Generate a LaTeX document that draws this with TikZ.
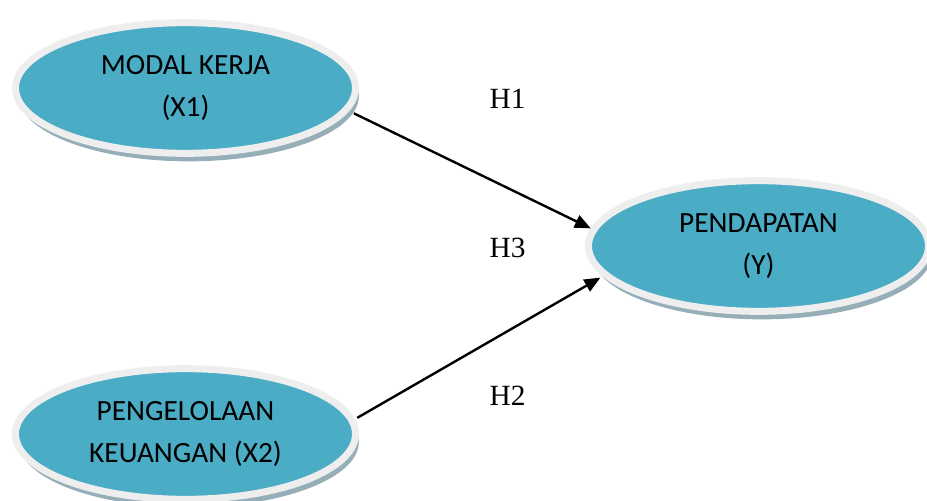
\documentclass[tikz,border=0pt]{standalone}
\usepackage{fontspec}
\setmainfont{Liberation Serif}
\newfontfamily\bodyfont{Carlito}
\usetikzlibrary{arrows.meta,shapes.geometric,shadows}
\definecolor{varAqua}{RGB}{75,172,198}
\definecolor{ringGray}{RGB}{238,238,238}
\definecolor{shadeBlue}{RGB}{150,174,184}
\tikzset{
  latentvar/.style={ellipse, draw=ringGray, line width=5.25pt, fill=varAqua, minimum width=255pt, minimum height=98pt, inner sep=0pt, align=center, font=\bodyfont\fontsize{22}{31.5}\selectfont, drop shadow={shadow xshift=2.5pt, shadow yshift=-6pt, fill=shadeBlue, opacity=1}},
  hyp/.style={font=\fontsize{22}{26}\selectfont},
  arrow/.style={-{Triangle[length=12pt,width=10pt]}, line width=1.8pt}
}

\begin{document}
\begin{tikzpicture}[x=0.75pt,y=0.75pt]
  \useasboundingbox (0,0) rectangle (927,500);
  \node[latentvar] (modal) at (185.5,412) {MODAL KERJA\\(X1)};
  \node[latentvar] (kelola) at (185.5,66) {PENGELOLAAN\\KEUANGAN (X2)};
  \node[latentvar] (pendapatan) at (758.5,254) {PENDAPATAN\\(Y)};

  \node[hyp] (h1) at (507.5,401) {H1};
  \node[hyp] (h3) at (507.5,252.5) {H3};
  \node[hyp] (h2) at (507.5,104) {H2};

  \draw[arrow, shorten <=4pt] (modal.-8) -- (pendapatan.174);
  \draw[arrow, shorten <=2pt, shorten >=2pt] (kelola.5) -- (pendapatan.191);
\end{tikzpicture}
\end{document}
